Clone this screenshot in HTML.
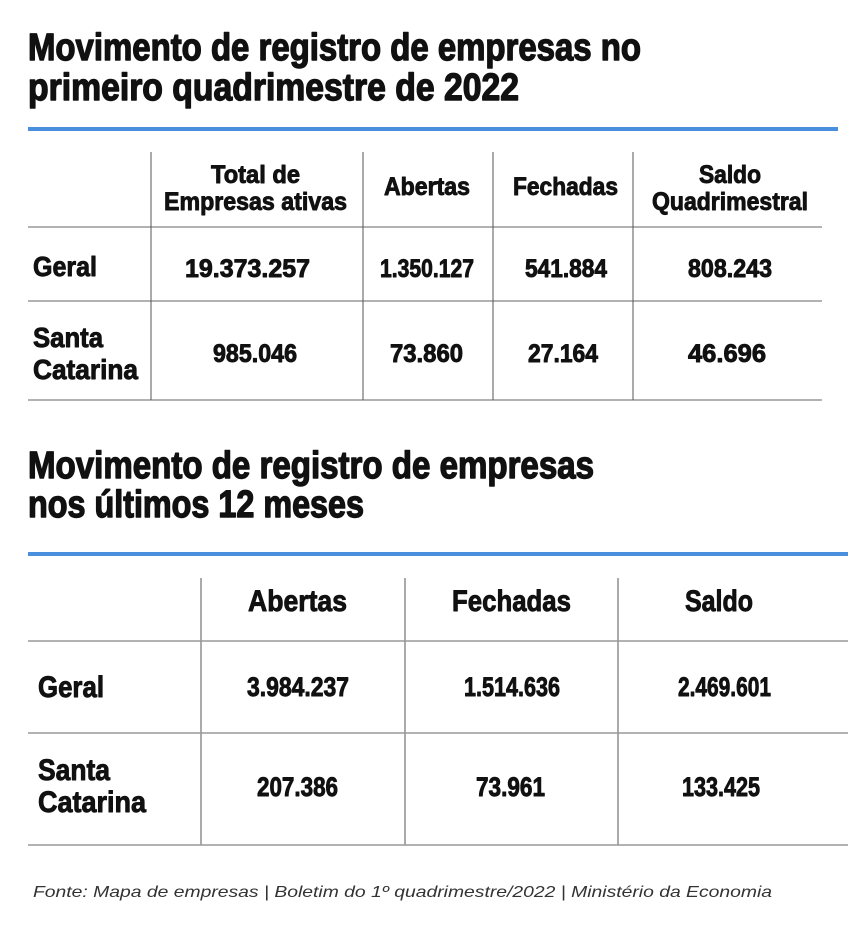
<!DOCTYPE html>
<html><head><meta charset="utf-8"><style>
html,body{margin:0;padding:0;background:#fff;width:864px;height:940px;overflow:hidden}
svg{display:block}
.b{font-family:"Liberation Sans Narrow","Liberation Sans",sans-serif;font-weight:bold;fill:#111;stroke:#111;stroke-width:0.9;stroke-linejoin:round}
.t{stroke-width:1.4}
.f{font-family:"Liberation Sans",sans-serif;font-style:italic;fill:#333}
</style></head><body>
<svg width="864" height="940" viewBox="0 0 864 940" xmlns="http://www.w3.org/2000/svg">
<g class="b t">
<text x="28" y="60" font-size="38" textLength="613" lengthAdjust="spacingAndGlyphs">Movimento de registro de empresas no</text>
<text x="28" y="100" font-size="38" textLength="491" lengthAdjust="spacingAndGlyphs">primeiro quadrimestre de 2022</text>
<text x="28" y="478" font-size="38" textLength="566" lengthAdjust="spacingAndGlyphs">Movimento de registro de empresas</text>
<text x="28" y="517" font-size="38" textLength="336" lengthAdjust="spacingAndGlyphs">nos últimos 12 meses</text>
</g>
<rect x="28" y="127" width="810" height="4" fill="#4a8ede"/>
<rect x="28" y="552" width="820" height="4" fill="#4a8ede"/>
<g stroke="#999" stroke-width="1.5">
<line x1="28" y1="227" x2="822" y2="227"/><line x1="28" y1="301" x2="822" y2="301"/><line x1="28" y1="400" x2="822" y2="400"/>
</g>
<g stroke="#555" stroke-width="1">
<line x1="151" y1="152" x2="151" y2="400"/><line x1="363" y1="152" x2="363" y2="400"/><line x1="493" y1="152" x2="493" y2="400"/><line x1="633" y1="152" x2="633" y2="400"/>
<line x1="201" y1="578" x2="201" y2="845"/><line x1="405" y1="578" x2="405" y2="845"/><line x1="618" y1="578" x2="618" y2="845"/>
</g>
<g stroke="#999" stroke-width="1.5">
<line x1="28" y1="641" x2="848" y2="641"/><line x1="28" y1="733" x2="848" y2="733"/><line x1="28" y1="845" x2="848" y2="845"/>
</g>
<g class="b" font-size="25">
<text x="211" y="183" textLength="89" lengthAdjust="spacingAndGlyphs">Total de</text>
<text x="164" y="210" textLength="183" lengthAdjust="spacingAndGlyphs">Empresas ativas</text>
<text x="384" y="195" textLength="86" lengthAdjust="spacingAndGlyphs">Abertas</text>
<text x="513" y="195" textLength="105" lengthAdjust="spacingAndGlyphs">Fechadas</text>
<text x="699" y="183" textLength="62" lengthAdjust="spacingAndGlyphs">Saldo</text>
<text x="652" y="210" textLength="156" lengthAdjust="spacingAndGlyphs">Quadrimestral</text>
<text x="33" y="276" font-size="28" textLength="64" lengthAdjust="spacingAndGlyphs">Geral</text>
<text x="33" y="347" font-size="28" textLength="70" lengthAdjust="spacingAndGlyphs">Santa</text>
<text x="33" y="379" font-size="28" textLength="105" lengthAdjust="spacingAndGlyphs">Catarina</text>
<text x="185" y="277" textLength="125" lengthAdjust="spacingAndGlyphs">19.373.257</text>
<text x="380" y="277" textLength="94" lengthAdjust="spacingAndGlyphs">1.350.127</text>
<text x="525" y="277" textLength="82" lengthAdjust="spacingAndGlyphs">541.884</text>
<text x="688" y="277" textLength="84" lengthAdjust="spacingAndGlyphs">808.243</text>
<text x="213" y="362" textLength="84" lengthAdjust="spacingAndGlyphs">985.046</text>
<text x="390" y="362" textLength="73" lengthAdjust="spacingAndGlyphs">73.860</text>
<text x="528" y="362" textLength="70" lengthAdjust="spacingAndGlyphs">27.164</text>
<text x="688" y="362" textLength="78" lengthAdjust="spacingAndGlyphs">46.696</text>
</g>
<g class="b" font-size="30">
<text x="248" y="611" textLength="99" lengthAdjust="spacingAndGlyphs">Abertas</text>
<text x="452" y="611" textLength="119" lengthAdjust="spacingAndGlyphs">Fechadas</text>
<text x="685" y="611" textLength="68" lengthAdjust="spacingAndGlyphs">Saldo</text>
<text x="38" y="697" textLength="66" lengthAdjust="spacingAndGlyphs">Geral</text>
<text x="38" y="780" textLength="72" lengthAdjust="spacingAndGlyphs">Santa</text>
<text x="38" y="812" textLength="108" lengthAdjust="spacingAndGlyphs">Catarina</text>
<g font-size="27">
<text x="247" y="696" textLength="102" lengthAdjust="spacingAndGlyphs">3.984.237</text>
<text x="464" y="696" textLength="96" lengthAdjust="spacingAndGlyphs">1.514.636</text>
<text x="678" y="696" textLength="93" lengthAdjust="spacingAndGlyphs">2.469.601</text>
<text x="257" y="796" textLength="81" lengthAdjust="spacingAndGlyphs">207.386</text>
<text x="476" y="796" textLength="69" lengthAdjust="spacingAndGlyphs">73.961</text>
<text x="682" y="796" textLength="78" lengthAdjust="spacingAndGlyphs">133.425</text>
</g>
</g>
<text class="f" x="33" y="897" font-size="16" textLength="739" lengthAdjust="spacingAndGlyphs">Fonte: Mapa de empresas | Boletim do 1º quadrimestre/2022 | Ministério da Economia</text>
</svg>
</body></html>
